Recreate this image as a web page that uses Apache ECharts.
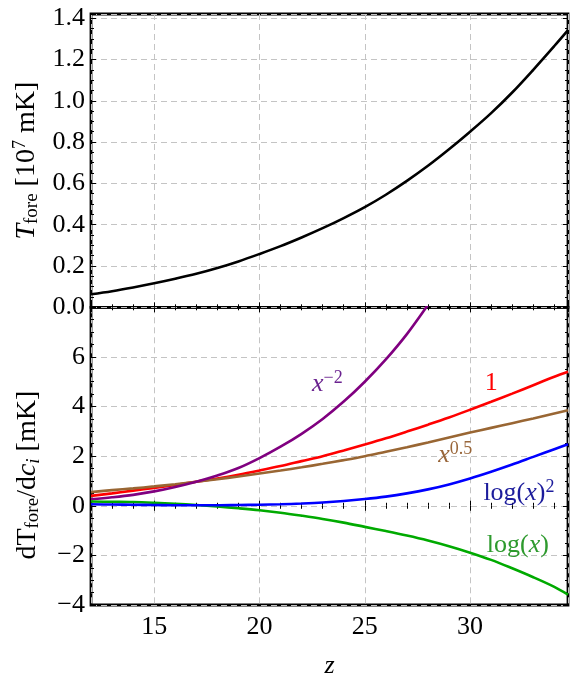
<!DOCTYPE html>
<html><head><meta charset="utf-8">
<script src="https://cdn.jsdelivr.net/npm/echarts@6/dist/echarts.min.js"></script>
<style>html,body{margin:0;padding:0;background:#fff}#c{width:571px;height:681px}</style>
</head><body><div id="c"></div>
<script>
// ---- data ----
const zT = [12,13,14,15,16,17,18,19,20,21,22,23,24,25,26,27,28,29,30,31,32,33,34,34.65];
const tFore = [0.063,0.078,0.096,0.116,0.138,0.162,0.190,0.222,0.258,0.296,0.338,0.383,0.432,0.485,0.545,0.612,0.685,0.765,0.850,0.940,1.040,1.150,1.265,1.342];

const zD = [12,13,14,15,16,17,18,19,20,21,22,23,24,25,26,27,28,29,30,31,32,33,34,34.65];
const dConst = [0.40,0.50,0.61,0.72,0.84,0.97,1.10,1.25,1.42,1.60,1.80,2.00,2.23,2.47,2.72,2.99,3.27,3.56,3.87,4.19,4.52,4.86,5.20,5.40];
const dSqrt  = [0.55,0.63,0.70,0.78,0.87,0.97,1.07,1.18,1.30,1.42,1.55,1.69,1.84,2.00,2.18,2.36,2.55,2.75,2.95,3.14,3.33,3.52,3.72,3.85];
const dLog2  = [0.06,0.05,0.04,0.03,0.02,0.02,0.02,0.03,0.04,0.06,0.09,0.13,0.19,0.27,0.37,0.50,0.66,0.86,1.10,1.37,1.66,1.97,2.28,2.48];
const dLog   = [0.17,0.16,0.15,0.12,0.08,0.03,-0.03,-0.10,-0.18,-0.28,-0.40,-0.53,-0.68,-0.85,-1.02,-1.20,-1.40,-1.63,-1.89,-2.18,-2.52,-2.88,-3.27,-3.58];
const zP = [12,13,14,15,16,17,18,19,20,21,22,23,24,25,26,27,28];
const dInvSq = [0.26,0.34,0.44,0.58,0.76,0.97,1.22,1.52,1.92,2.38,2.90,3.50,4.20,5.00,5.90,6.92,8.10];

const xTickLabels = [15,20,25,30];
const yTopTickLabels = [0,0.2,0.4,0.6,0.8,1.0,1.2,1.4];
const yBotTickLabels = [-4,-2,0,2,4,6];

// ---- styling ----
const FF = "'Liberation Serif','DejaVu Serif',serif";
const FS = 26;
const gridLine = {show:true, lineStyle:{color:'#c4c4c4', type:[6,4], width:1}};
const tick = {show:true, inside:true, length:5, lineStyle:{color:'#000', width:1}};
const minor = (n)=>({show:true, splitNumber:n, length:3, lineStyle:{color:'#000', width:1}});
const pair = (xs, ys) => xs.map((x,i)=>[x, ys[i]]);
const inList = (v, list) => list.some(t => Math.abs(t - v) < 1e-6);

const richBase = (color, fs) => {
  fs = fs || FS;
  return {
    r:{fontFamily:FF, fontSize:fs, color, lineHeight:30},
    i:{fontFamily:FF, fontSize:fs, fontStyle:'italic', color, lineHeight:30},
    sup:{fontFamily:FF, fontSize:18, color, verticalAlign:'top', lineHeight:19},
    sub:{fontFamily:FF, fontSize:19, color, verticalAlign:'bottom', lineHeight:18},
    subi:{fontFamily:FF, fontSize:19, fontStyle:'italic', color, verticalAlign:'bottom', lineHeight:18}
  };
};

function xAx(grid, pos, labels, split, extra) {
  return Object.assign({
    type:'value', gridIndex:grid, position:pos, min:12, max:34.65,
    minInterval:5, maxInterval:5, splitNumber:5,
    axisLine:{show:false}, axisTick:tick, minorTick:minor(5),
    splitLine: split ? gridLine : {show:false},
    axisLabel: labels ? {show:true, fontFamily:FF, fontSize:FS, color:'#000', margin:9,
      formatter:(v)=> inList(v, xTickLabels) ? String(v) : ''} : {show:false}
  }, extra||{});
}
function yAx(grid, pos, min, max, interval, minorN, labels, split, fmt, extra) {
  return Object.assign({
    type:'value', gridIndex:grid, position:pos, min, max, interval,
    axisLine:{show:false}, axisTick:tick, minorTick:minor(minorN),
    splitLine: split ? gridLine : {show:false},
    axisLabel: labels ? {show:true, fontFamily:FF, fontSize:FS, color:'#000', margin:6, formatter:fmt} : {show:false}
  }, extra||{});
}

function annot(coord, text, color) {
  return {
    symbol:'circle', symbolSize:1, silent:true, animation:false,
    itemStyle:{color:'rgba(0,0,0,0)'},
    label:{show:true, position:'inside', formatter:text, rich:richBase(color)},
    data:[{coord}]
  };
}
function line(xi, yi, data, color, mp) {
  return {type:'line', xAxisIndex:xi, yAxisIndex:yi, data, smooth:0.35, showSymbol:false,
    symbol:'none', clip:true, lineStyle:{color, width:2.6}, itemStyle:{color},
    markPoint: mp, animation:false, z:3};
}

const chart = echarts.init(document.getElementById('c'), null, {renderer:'canvas'});
chart.setOption({
  backgroundColor:'#fff',
  animation:false,
  grid:[
    {left:91, right:3, top:14, height:293.3, show:true, borderColor:'#000', borderWidth:2.8, backgroundColor:'rgba(0,0,0,0)'},
    {left:91, right:3, top:307.3, bottom:76, show:true, borderColor:'#000', borderWidth:2.8, backgroundColor:'rgba(0,0,0,0)'}
  ],
  xAxis:[
    xAx(0,'bottom',false,true),
    xAx(0,'top',false,false),
    xAx(1,'bottom',true,true,{name:'z', nameLocation:'middle', nameGap:48,
      nameTextStyle:{fontFamily:FF, fontSize:FS, fontStyle:'italic', color:'#000'}}),
    xAx(1,'top',false,false)
  ],
  yAxis:[
    yAx(0,'left',0,1.42,0.2,4,true,true,(v)=> inList(v, yTopTickLabels) ? v.toFixed(1) : '',
      {name:'{i|T}{sub|fore}{r| [10}{sup|7}{r| mK]}', nameLocation:'middle', nameGap:48, nameRotate:90,
       nameTextStyle:{rich:richBase('#000', 28)}}),
    yAx(0,'right',0,1.42,0.2,4,false,false),
    yAx(1,'left',-4,8,2,4,true,true,(v)=> inList(v, yBotTickLabels) ? String(v).replace('-','\u2212') : '',
      {name:'{r|dT}{sub|fore}{r|/d}{i|c}{subi|i}{r| [mK]}', nameLocation:'middle', nameGap:48, nameRotate:90,
       nameTextStyle:{rich:richBase('#000', 28), padding:[0,38,0,0]}}),
    yAx(1,'right',-4,8,2,4,false,false)
  ],
  series:[
    line(0,0,pair(zT,tFore),'#000'),
    line(2,2,pair(zD,dConst),'#ff0000', annot([31.0,4.94],'{r|1}','#ff0000')),
    line(2,2,pair(zD,dSqrt),'#996633', annot([29.3,2.05],'{i|x}{sup|0.5}','#99663a')),
    line(2,2,pair(zP,dInvSq),'#800080', annot([23.22,4.9],'{i|x}{sup|\u22122}','#6b2390')),
    line(2,2,pair(zD,dLog),'#00aa00', annot([32.27,-1.58],'{r|log(}{i|x}{r|)}','#2e9a2e')),
    line(2,2,pair(zD,dLog2),'#0000ff', annot([32.32,0.51],'{r|log(}{i|x}{r|)}{sup|2}','#1c1c9c'))
  ]
});
</script>
</body></html>
